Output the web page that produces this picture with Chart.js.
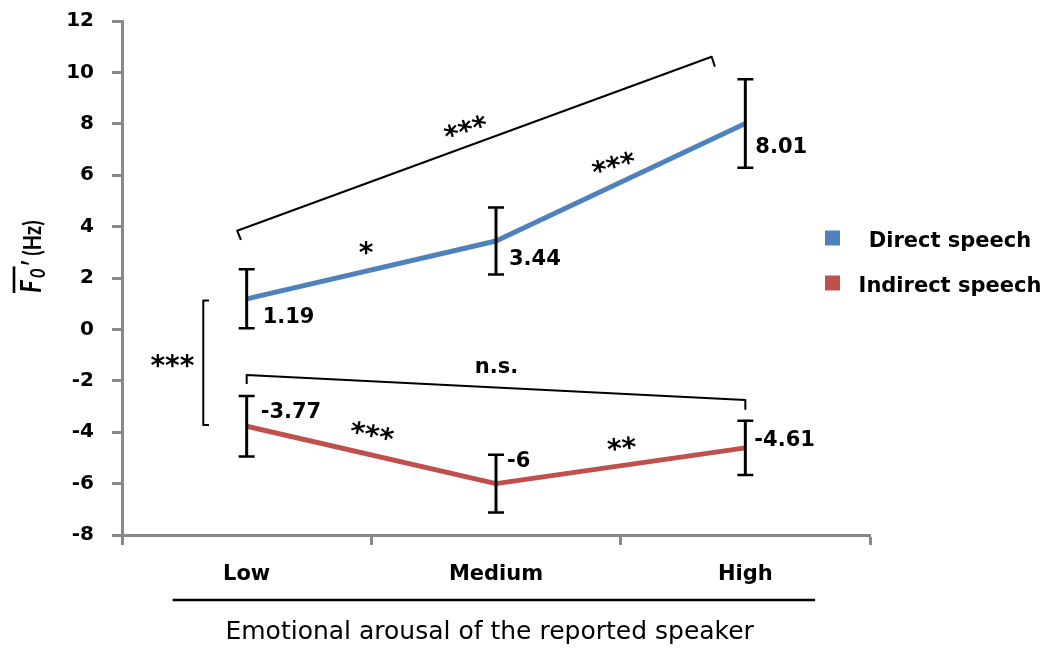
<!DOCTYPE html>
<html>
<head>
<meta charset="utf-8">
<script src="https://cdn.jsdelivr.net/npm/chart.js@4.4.0/dist/chart.umd.min.js"></script>
<style>
  html, body { margin: 0; padding: 0; background: #fff; }
  #wrap { width: 1051px; height: 650px; }
</style>
</head>
<body>
<div id="wrap"><canvas id="chart"></canvas></div>
<script>
// ---- data ----
const categories = ['Low', 'Medium', 'High'];
const seriesNames = ['Direct speech', 'Indirect speech'];
const directMean = [1.19, 3.44, 8.01];
const directErr = [1.15, 1.3, 1.72];
const indirectMean = [-3.77, -6, -4.61];
const indirectErr = [1.18, 1.12, 1.06];
const yMin = -8, yMax = 12, yStep = 2;

// significance brackets, in axis units (x = category index, y = Hz)
const bracketTop = [[-0.023, 3.48], [-0.038, 3.84], [1.865, 10.61], [1.878, 10.22]];
const bracketNs = [[0, -2.12], [0, -1.77], [2, -2.75], [2, -3.10]];
const bracketLeft = [[-0.151, 1.12], [-0.174, 1.12], [-0.174, -3.72], [-0.151, -3.72]];
const sigText = ['*', '***', '***', 'n.s.', '***', '***', '**'];
const sigX = [0.48, 1.47, 0.876, 1.0, -0.297, 0.505, 1.504];
const sigY = [3.15, 6.50, 7.90, -1.46, -1.22, -3.95, -4.45];
const sigRot = [0, -16, -18, 0, 0, 12, -6];

// where each value label sits relative to its point (px: left edge, vertical centre)
const directLabelOff = [[18, 16], [14, 16], [11, 21]];
const indirectLabelOff = [[15, -16], [12, -25], [10, -10]];

const BLUE = '#4F81BD';
const RED = '#C0504D';
const AXIS = '#898989';
const FONT = '"DejaVu Sans"';

function pts(means) {
    return means.map((v, i) => ({ x: i, y: v }));
}
function pairs(list) {
    return list.map(p => ({ x: p[0], y: p[1] }));
}

function centredText(ctx, text, cx, cy) {
    const m = ctx.measureText(text);
    const w = m.actualBoundingBoxLeft + m.actualBoundingBoxRight;
    const h = m.actualBoundingBoxAscent + m.actualBoundingBoxDescent;
    ctx.fillText(text, cx - w / 2 + m.actualBoundingBoxLeft, cy - h / 2 + m.actualBoundingBoxAscent);
}

const overlay = {
    id: 'overlay',
    afterDatasetsDraw(chart) {
        const ctx = chart.ctx;
        const x = chart.scales.x, y = chart.scales.y;
        ctx.save();
        ctx.strokeStyle = '#000';
        ctx.fillStyle = '#000';
        ctx.lineCap = 'butt';

        // error bars
        [[directMean, directErr], [indirectMean, indirectErr]].forEach(([means, errs]) => {
            means.forEach((m, i) => {
                const px = x.getPixelForValue(i);
                const top = y.getPixelForValue(m + errs[i]);
                const bot = y.getPixelForValue(m - errs[i]);
                ctx.lineWidth = 3;
                ctx.beginPath();
                ctx.moveTo(px, top);
                ctx.lineTo(px, bot);
                ctx.stroke();
                ctx.lineWidth = 2.5;
                ctx.beginPath();
                ctx.moveTo(px - 8, top); ctx.lineTo(px + 8, top);
                ctx.moveTo(px - 8, bot); ctx.lineTo(px + 8, bot);
                ctx.stroke();
            });
        });

        // value labels
        ctx.font = 'bold 21px ' + FONT;
        [[directMean, directLabelOff], [indirectMean, indirectLabelOff]].forEach(([means, offs]) => {
            means.forEach((m, i) => {
                const txt = String(m);
                const mt = ctx.measureText(txt);
                const h = mt.actualBoundingBoxAscent + mt.actualBoundingBoxDescent;
                const px = x.getPixelForValue(i) + offs[i][0];
                const py = y.getPixelForValue(m) + offs[i][1];
                ctx.fillText(txt, px + mt.actualBoundingBoxLeft, py - h / 2 + mt.actualBoundingBoxAscent);
            });
        });

        // significance marks
        sigText.forEach((t, i) => {
            ctx.save();
            ctx.translate(x.getPixelForValue(sigX[i]), y.getPixelForValue(sigY[i]));
            ctx.rotate(sigRot[i] * Math.PI / 180);
            ctx.font = t === 'n.s.' ? 'bold 21px ' + FONT : 'bold 28px ' + FONT;
            centredText(ctx, t, 0, 0);
            ctx.restore();
        });
        ctx.restore();
    },
    afterDraw(chart) {
        const ctx = chart.ctx;
        const x = chart.scales.x;
        ctx.save();
        ctx.fillStyle = '#000';
        ctx.strokeStyle = '#000';

        // rule between category labels and axis title
        ctx.lineWidth = 2.5;
        ctx.beginPath();
        ctx.moveTo(x.getPixelForValue(-0.297), 600);
        ctx.lineTo(x.getPixelForValue(2.28), 600);
        ctx.stroke();

        // x axis title
        ctx.font = '25px ' + FONT;
        centredText(ctx, 'Emotional arousal of the reported speaker', x.getPixelForValue(0.98), 632);

        // legend
        const colors = [BLUE, RED];
        const rows = [238, 283];
        ctx.font = 'bold 21px ' + FONT;
        seriesNames.forEach((name, i) => {
            ctx.fillStyle = colors[i];
            ctx.fillRect(825, rows[i] - 7.5, 15, 15);
            ctx.fillStyle = '#000';
            centredText(ctx, name, 950, rows[i] + 3);
        });

        // y axis title: overlined italic F sub 0, prime, (Hz)
        ctx.translate(41, 293);
        ctx.rotate(-Math.PI / 2);
        ctx.scale(1, 1.2);
        ctx.textAlign = 'left';
        ctx.textBaseline = 'alphabetic';
        let pos = 0;
        ctx.font = 'italic bold 24px Lato';
        ctx.fillText('F', pos, 0);
        pos += ctx.measureText('F').width + 2;
        ctx.font = 'italic bold 17px Lato';
        ctx.fillText('0', pos, 3);
        pos += ctx.measureText('0').width + 1;
        ctx.lineWidth = 2.2;
        ctx.beginPath();
        ctx.moveTo(0, -22.5);
        ctx.lineTo(pos + 1, -22.5);
        ctx.stroke();
        ctx.font = 'bold 20px Lato';
        ctx.fillText('\u2032', pos + 1, 0);
        pos += ctx.measureText('\u2032').width;
        ctx.font = 'bold 20px Lato';
        ctx.fillText(' (Hz)', pos, 0);
        ctx.restore();
    }
};

const tickCol = c => Number.isInteger(c.tick.value) ? 'rgba(0,0,0,0)' : AXIS;

new Chart(document.getElementById('chart'), {
    type: 'line',
    data: {
        datasets: [
            { label: seriesNames[0], data: pts(directMean), borderColor: BLUE, borderWidth: 5 },
            { label: seriesNames[1], data: pts(indirectMean), borderColor: RED, borderWidth: 5 },
            { label: 'bracket', data: pairs(bracketTop), borderColor: '#000', borderWidth: 2 },
            { label: 'bracket', data: pairs(bracketNs), borderColor: '#000', borderWidth: 2 },
            { label: 'bracket', data: pairs(bracketLeft), borderColor: '#000', borderWidth: 2 }
        ]
    },
    options: {
        responsive: true,
        maintainAspectRatio: false,
        animation: false,
        elements: {
            point: { radius: 0, hoverRadius: 0 },
            line: { tension: 0, borderJoinStyle: 'round', fill: false }
        },
        layout: { padding: { top: 21, right: 181, left: 0, bottom: 0 } },
        plugins: { legend: { display: false }, tooltip: { enabled: false } },
        scales: {
            x: {
                type: 'linear',
                min: -0.5,
                max: 2.5,
                afterFit: s => { s.height = 115; },
                border: { color: AXIS, width: 3 },
                grid: { drawOnChartArea: false, tickLength: 10, tickWidth: 3, tickColor: tickCol },
                ticks: {
                    stepSize: 0.5,
                    autoSkip: false,
                    maxRotation: 0,
                    padding: 17,
                    color: '#000',
                    font: { family: 'DejaVu Sans', weight: 'bold', size: 21 },
                    callback: v => Number.isInteger(v) ? categories[v] : ''
                }
            },
            y: {
                min: yMin,
                max: yMax,
                afterFit: s => { s.width = 122; s.paddingTop = 0; s.paddingBottom = 0; },
                border: { color: AXIS, width: 3 },
                grid: { drawOnChartArea: false, tickLength: 10, tickWidth: 3, tickColor: AXIS },
                ticks: {
                    stepSize: yStep,
                    padding: 18,
                    color: '#000',
                    font: { family: 'DejaVu Sans', weight: 'bold', size: 20 }
                }
            }
        }
    },
    plugins: [overlay]
});
</script>
</body>
</html>
